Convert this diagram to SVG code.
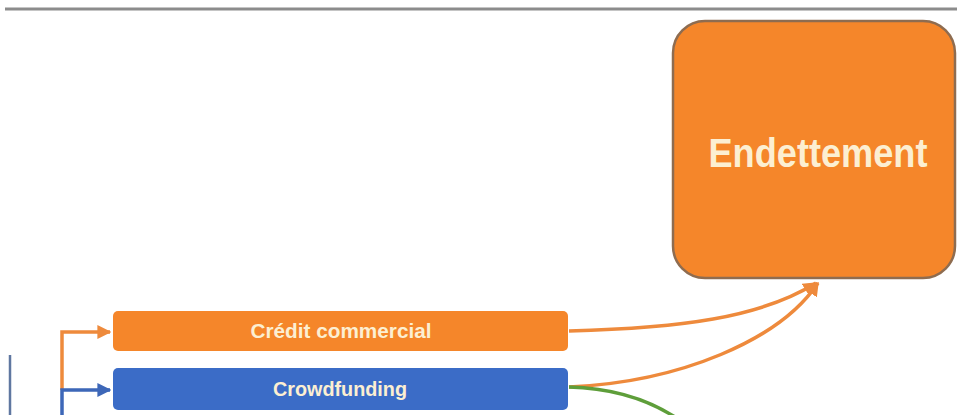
<svg xmlns="http://www.w3.org/2000/svg" width="957" height="415" viewBox="0 0 957 415">
<defs>
<style>
.lbl{font-family:"Liberation Sans",Arial,sans-serif;font-weight:bold;fill:#FCEFD2;text-anchor:middle}
.orangeLine{fill:none;stroke:#EE8A3C;stroke-width:3.5}
.blueLine{fill:none;stroke:#3D67B8;stroke-width:3.5}
.greenLine{fill:none;stroke:#5E9E3A;stroke-width:3.5}
</style>
<marker id="ao" viewBox="0 0 10 10" refX="9" refY="5" markerWidth="4" markerHeight="4" orient="auto" markerUnits="strokeWidth"><path d="M0,0 L10,5 L0,10 z" fill="#EE8A3C"/></marker>
<marker id="ab" viewBox="0 0 10 10" refX="9" refY="5" markerWidth="4" markerHeight="4" orient="auto" markerUnits="strokeWidth"><path d="M0,0 L10,5 L0,10 z" fill="#3D67B8"/></marker>
</defs>
<rect width="957" height="415" fill="#FFFFFF"/>
<line x1="5" y1="9" x2="957" y2="9" stroke="#8C8C8C" stroke-width="3"/>
<line x1="10" y1="355" x2="10" y2="415" stroke="#5F77A0" stroke-width="2.5"/>
<g id="connectors">
<path class="orangeLine" d="M62,390 L62,332 L110,332" marker-end="url(#ao)"/>
<path class="blueLine" d="M62,415 L62,390 L110,390" marker-end="url(#ab)"/>
<path class="orangeLine" d="M569,331 C680,328 760,318 816,283" marker-end="url(#ao)"/>
<path class="orangeLine" d="M569,387 C680,382 780,340 818,283" marker-end="url(#ao)"/>
<path class="greenLine" d="M569,387 C610,388 645,398 675,417"/>
</g>
<g id="endettement">
<rect x="673" y="21" width="282" height="257" rx="32" fill="#F5862A" stroke="#8E6C50" stroke-width="2.5"/>
<text class="lbl" x="818" y="167" font-size="40" textLength="219" lengthAdjust="spacingAndGlyphs">Endettement</text>
</g>
<g id="credit-commercial">
<rect x="113" y="311" width="455" height="40" rx="5" fill="#F5862A"/>
<text class="lbl" x="341" y="338" font-size="20" textLength="181" lengthAdjust="spacingAndGlyphs">Crédit commercial</text>
</g>
<g id="crowdfunding">
<rect x="113" y="368" width="455" height="42" rx="5" fill="#3B6CC7"/>
<text class="lbl" x="340" y="396" font-size="20" textLength="134" lengthAdjust="spacingAndGlyphs">Crowdfunding</text>
</g>
</svg>
